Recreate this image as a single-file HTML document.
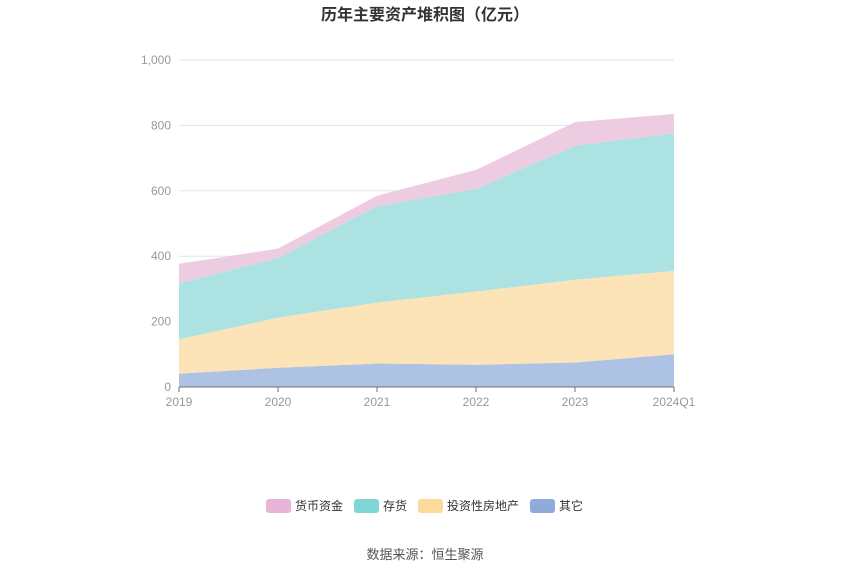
<!DOCTYPE html>
<html><head><meta charset="utf-8"><style>
body{margin:0;background:#fff;width:850px;height:575px;overflow:hidden;font-family:"Liberation Sans","Noto Sans CJK SC",sans-serif}
</style></head><body>
<svg width="850" height="575" font-family="Liberation Sans, Noto Sans CJK SC, sans-serif">
<text x="425" y="20" text-anchor="middle" font-size="16" font-weight="bold" fill="#333">历年主要资产堆积图（亿元）</text>
<g id="grid"></g><g id="areas"></g><g id="axes"></g>
<g id="legend"></g>
<text x="425" y="559" text-anchor="middle" font-size="13" fill="#555">数据来源：恒生聚源</text>
</svg>
<script>
const categories=["2019","2020","2021","2022","2023","2024Q1"];
const other=[41,59,72,68,75,100];
const investProp=[105,153,186,224,253,255];
const inventory=[171,183,295,314,410,421];
const cash=[60,28,32,58,72,59];
const yTicks=[0,200,400,600,800,1000];
const seriesNames=["其它","投资性房地产","存货","货币资金"];
const NS="http://www.w3.org/2000/svg";
const x0=179,x1=674,y0=387,y1=60,ymax=1000;
const X=i=>x0+i*(x1-x0)/(categories.length-1);
const Y=v=>y0-v/ymax*(y0-y1);
function mk(t,a,p){const e=document.createElementNS(NS,t);for(const k in a)e.setAttribute(k,a[k]);p.appendChild(e);return e;}
const grid=document.getElementById('grid'),areas=document.getElementById('areas'),axes=document.getElementById('axes'),legend=document.getElementById('legend');
yTicks.forEach(t=>{
 const l=mk('line',{x1:x0,x2:x1,y1:Y(t),y2:Y(t),stroke:'#e0e6f1'},grid);
 
 
 const tx=mk('text',{x:x0-8,y:Y(t)+4,'text-anchor':'end','font-size':12,fill:'#999'},axes);
 tx.textContent=t.toLocaleString('en-US');
 
 
});
const series=[other,investProp,inventory,cash];
const fills=['#aec3e4','#fde4b8','#ace2e1','#edcce2'];
const lcol=['#8fabdc','#fdd99a','#7fd6d6','#e8b4d8'];
const slugs=['area-other','area-investment-property','area-inventory','area-cash'];
let base=categories.map(()=>0);
series.forEach((s,k)=>{
 const top=base.map((b,i)=>b+s[i]);
 let d=top.map((v,i)=>(i?'L':'M')+X(i)+','+Y(v)).join('');
 for(let i=categories.length-1;i>=0;i--)d+='L'+X(i)+','+Y(base[i]);
 const p=mk('path',{d:d+'Z',fill:fills[k]},areas);
 
 
 base=top;
});
const ax=mk('line',{x1:x0,x2:x1,y1:y0,y2:y0,stroke:'#6e7079'},axes);


categories.forEach((c,i)=>{
 const tk=mk('line',{x1:X(i),x2:X(i),y1:y0,y2:y0+5,stroke:'#6e7079'},axes);
 
 
 const t=mk('text',{x:X(i),y:y0+19,'text-anchor':'middle','font-size':12,fill:'#999'},axes);
 t.textContent=c;
 
 
});
const legOrder=[3,2,1,0];const legX=[266,354,418,530];
legOrder.forEach((k,j)=>{
 const g=mk('g',{},legend);
 
 
 mk('rect',{x:legX[j],y:499,width:25,height:14,rx:3,fill:lcol[k]},g);
 const t=mk('text',{x:legX[j]+29,y:510,'font-size':12,fill:'#333'},g);
 t.textContent=seriesNames[k];
});
</script>
</body></html>
